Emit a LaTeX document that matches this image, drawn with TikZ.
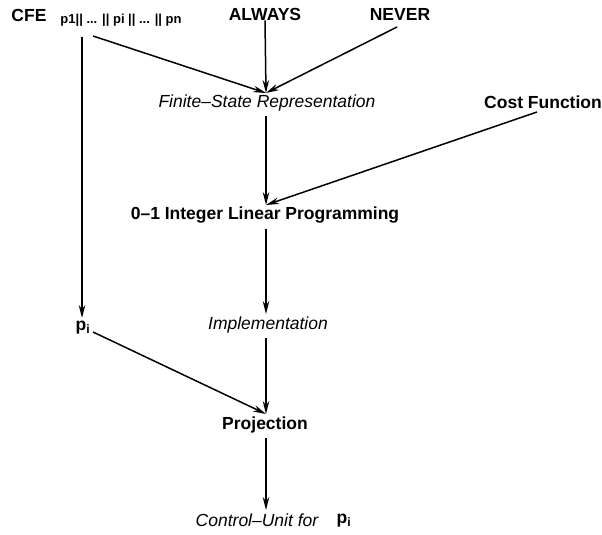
\documentclass[tikz,border=0pt]{standalone}
\usepackage{fontspec}
\setmainfont{Liberation Sans}
\usetikzlibrary{arrows.meta}
\begin{document}
\begin{tikzpicture}[x=1pt,y=-1pt,
  lbl/.style={inner sep=0pt,font=\fontsize{17.5}{19}\selectfont\bfseries},
  stage/.style={inner sep=0pt,font=\fontsize{17.5}{19}\selectfont\itshape},
  small/.style={inner sep=0pt,font=\fontsize{13}{15}\selectfont\bfseries},
  arr/.style={line width=1.5pt,-{Stealth[length=13pt,width=6.5pt]}}]
\useasboundingbox (0,0) rectangle (602,535);

% inputs along the top
\node[lbl]   (cfe)    at (29,15)  {CFE};
\node[small] (plist)  at (121,20) {p1|| ... || pi || ... || pn};
\node[lbl]   (always) at (265,14) {ALWAYS};
\node[lbl]   (never)  at (400,14) {NEVER};
\node[lbl]   (cost)   at (543,102) {Cost Function};

% main flow
\node[stage] (fsr)  at (267,103) {Finite--State Representation};
\node[lbl]   (ilp)  at (265,215) {0--1 Integer Linear Programming};
\node[stage] (impl) at (268,325) {Implementation};
\node[lbl]   (proj) at (265,425) {Projection};
\node[stage] (cu)   at (257,520) {Control--Unit for};
\node[lbl]   (pcu)  at (344,521) {p$_{\mathbf{i}}$};
\node[lbl]   (pi)   at (83,328)  {p$_{\mathbf{i}}$};

% connector end points on the main column
\coordinate (fsrin)  at (266,93);
\coordinate (fsrout) at (266,116);
\coordinate (ilpin)  at (266,205);
\coordinate (ilpout) at (266,229);
\coordinate (implin) at (266,314);
\coordinate (implout) at (266,338);
\coordinate (projin) at (266,414);
\coordinate (projout) at (266,438);
\coordinate (cuin)   at (266,510);
% free ends of the side connectors
\coordinate (pstart) at (82,37);
\coordinate (piin)   at (82,318);
\coordinate (dstart) at (93,36);
\coordinate (nstart) at (397,27);
\coordinate (cstart) at (537,112);
\coordinate (pistart) at (93,332);

\draw[arr] (always.south) -- (fsrin);
\draw[arr] (dstart) -- (fsrin);
\draw[arr] (nstart) -- (fsrin);
\draw[arr] (fsrout) -- (ilpin);
\draw[arr] (cstart) -- (ilpin);
\draw[arr] (ilpout) -- (implin);
\draw[arr] (pstart) -- (piin);
\draw[arr] (implout) -- (projin);
\draw[arr] (pistart) -- (projin);
\draw[arr] (projout) -- (cuin);
\end{tikzpicture}
\end{document}
